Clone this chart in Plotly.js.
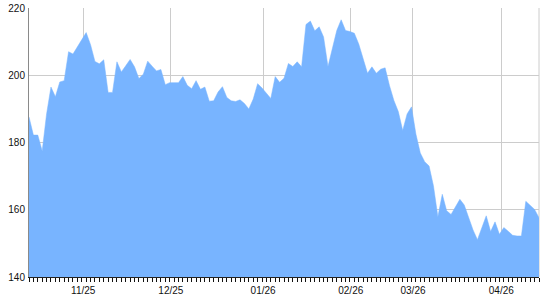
<!DOCTYPE html>
<html>
<head>
<meta charset="utf-8">
<script src="https://cdn.plot.ly/plotly-3.0.1.min.js"></script>
<style>html,body{margin:0;padding:0;background:#fff;}#chart{width:540px;height:300px;}</style>
</head>
<body>
<div id="chart"></div>
<script>
// Trading-day closing values (one per session)
const closes = [
  187.6, 182.2, 182.2, 177.5, 188.5, 196.5, 193.6, 198.0, 198.4, 207.0,
  206.3, 208.4, 210.6, 212.7, 209.1, 204.1, 203.4, 204.6, 194.9, 194.9,
  204.0, 201.0, 202.8, 204.7, 202.5, 199.0, 200.3, 204.2, 202.7, 201.3,
  201.7, 197.2, 197.8, 197.8, 197.8, 199.6, 197.0, 196.0, 198.4, 195.8,
  196.5, 192.3, 192.4, 195.0, 196.6, 193.4, 192.4, 192.2, 192.7, 191.6,
  190.0, 192.9, 197.5, 196.2, 194.8, 193.1, 199.6, 197.9, 199.1, 203.5,
  202.6, 204.0, 202.5, 215.1, 216.1, 213.2, 214.4, 211.4, 202.6, 208.3,
  213.3, 216.5, 213.3, 213.0, 212.5, 209.3, 204.9, 200.6, 202.5, 200.6,
  201.8, 202.2, 196.9, 192.5, 189.2, 183.6, 188.5, 190.6, 182.5, 176.9,
  174.3, 173.0, 167.1, 157.9, 164.6, 159.7, 158.6, 160.8, 163.1, 161.4,
  157.8, 154.0, 151.1, 154.8, 158.2, 153.5, 156.4, 152.7, 154.7, 153.6,
  152.4, 152.2, 152.2, 162.5, 161.3, 160.1, 157.6
];
const sessions = closes.map((_, i) => i);
const monthLabels = ["11/25", "12/25", "01/26", "02/26", "03/26", "04/26"];
const monthSessions = [12.34, 32.27, 53.25, 73.18, 87.34, 107.43];
const yTicks = [140, 160, 180, 200, 220];

const trace = {
  x: sessions,
  y: closes,
  type: 'scatter',
  mode: 'lines',
  fill: 'tozeroy',
  fillcolor: '#78b4ff',
  line: {color: '#78b4ff', width: 0.5, shape: 'linear'},
  hoverinfo: 'skip'
};

const layout = {
  width: 540,
  height: 300,
  margin: {l: 29, r: 1, t: 8, b: 23, pad: 0},
  paper_bgcolor: '#ffffff',
  plot_bgcolor: '#ffffff',
  showlegend: false,
  font: {family: 'Liberation Sans, Arial, sans-serif', size: 10, color: '#111'},
  xaxis: {
    range: [0, sessions.length - 1],
    tickmode: 'array',
    tickvals: monthSessions,
    ticktext: monthLabels,
    ticks: 'outside',
    ticklen: 4,
    tickcolor: 'rgba(0,0,0,0)',
    showgrid: true,
    gridcolor: '#cccccc',
    gridwidth: 1,
    showline: true,
    linecolor: '#222',
    linewidth: 1,
    zeroline: false,
    fixedrange: true,
    minor: {tickmode: 'linear', tick0: 0, dtick: 1, ticks: 'outside', ticklen: 4, tickcolor: '#111', tickwidth: 1, showgrid: false}
  },
  yaxis: {
    range: [140, 220],
    tickmode: 'array',
    tickvals: yTicks,
    ticks: 'outside',
    ticklen: 1,
    tickcolor: 'rgba(0,0,0,0)',
    showgrid: true,
    gridcolor: '#cccccc',
    gridwidth: 1,
    showline: true,
    linecolor: '#8a8a8a',
    linewidth: 1,
    zeroline: false,
    fixedrange: true
  },
  shapes: [
    {type: 'line', xref: 'paper', yref: 'paper', x0: 1, x1: 1, y0: 0, y1: 1, layer: 'below', line: {color: '#cccccc', width: 1}}
  ]
};

Plotly.newPlot('chart', [trace], layout, {displayModeBar: false, staticPlot: true});
</script>
</body>
</html>
